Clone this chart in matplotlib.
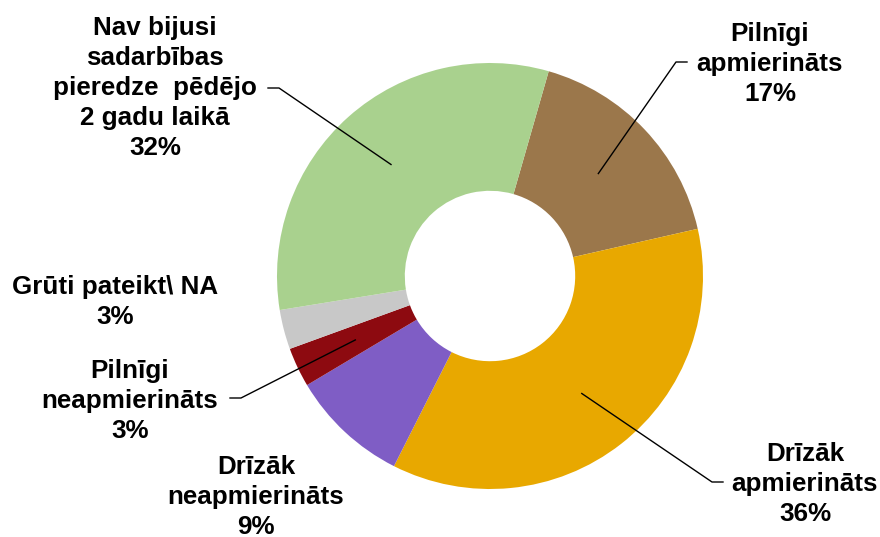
import matplotlib.pyplot as plt
import numpy as np

plt.rcParams['font.family'] = ['Liberation Sans', 'DejaVu Sans']

# Data
categories = ['Pilnīgi\napmierināts', 'Drīzāk\napmierināts', 'Drīzāk\nneapmierināts',
              'Pilnīgi\nneapmierināts', 'Grūti pateikt\\ NA',
              'Nav bijusi\nsadarbības\npieredze  pēdējo\n2 gadu laikā']
values = [17, 36, 9, 3, 3, 32]
colors = ['#9B774B', '#E8A800', '#7F5DC5', '#8D0A10', '#C8C8C8', '#A9D18E']

# Label layout (pixel coords, y from top), and leader flags
label_pos = [(770, 64), (805, 484), (256, 497), (130, 401), (115, 302), (155, 88)]
leader_x = [687, 723, None, 230, None, 268]  # where the leader line touches the text
leader_y = [62, 482, None, 398, None, 88]

W, H = 880, 537
fig = plt.figure(figsize=(8.8, 5.37), dpi=100)
ax = fig.add_axes([0, 0, 1, 1])

cx, cy = 490, H - 276
R = 213
ring = 0.6

wedges, _ = ax.pie(values, colors=colors, startangle=74, counterclock=False,
                   center=(cx, cy), radius=R, frame=True,
                   wedgeprops=dict(width=R * ring, linewidth=0))
ax.set_xlim(0, W)
ax.set_ylim(0, H)
ax.set_aspect('equal')
ax.axis('off')

rmid = R * (1 - ring / 2)
for i, w in enumerate(wedges):
    lx, ly = label_pos[i]
    txt = categories[i] + '\n' + f'{values[i]}%'
    ax.text(lx, H - ly, txt, ha='center', va='center', fontsize=18.7,
            fontweight='bold', linespacing=1.31)
    if leader_x[i] is not None:
        ang = np.radians((w.theta1 + w.theta2) / 2)
        px, py = cx + rmid * np.cos(ang), cy + rmid * np.sin(ang)
        ex, ey = leader_x[i], H - leader_y[i]
        step = 11 if px > ex else -11
        ax.plot([ex, ex + step, px], [ey, ey, py], color='black', lw=1.0)

fig.savefig('out.png', dpi=100)
